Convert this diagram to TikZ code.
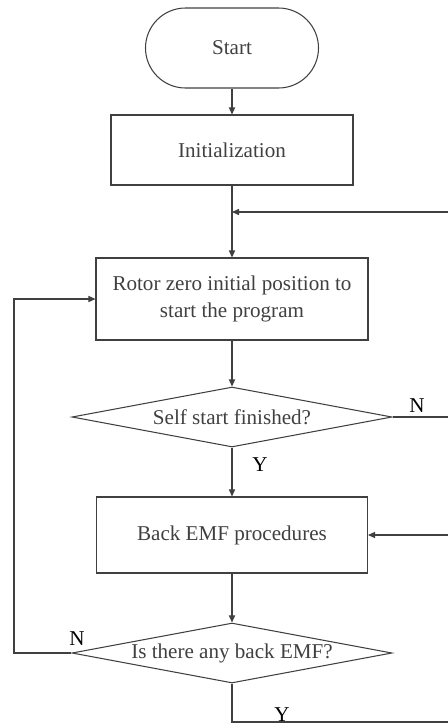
\documentclass[tikz,border=0pt]{standalone}
\usepackage{fontspec}
\setmainfont{Liberation Serif}
\usetikzlibrary{arrows.meta,shapes.geometric}
\tikzset{
	line/.style={line width=0.6pt, color=black!75},
	arr/.style={line, -{Triangle[length=4pt,width=3.5pt]}},
	box/.style={line, draw, rectangle, align=center, font=\fontsize{12}{15}\selectfont},
	term/.style={box, rounded corners=0.8cm, minimum width=3.46cm, minimum height=1.6cm},
	decide/.style={line, draw, diamond, aspect=5.3, inner sep=0pt, minimum width=6.4cm, minimum height=1.2cm, font=\fontsize{12}{15}\selectfont},
	yn/.style={font=\fontsize{12}{14}\selectfont}
}
\begin{document}
\begin{tikzpicture}
		%%%%% START %%%%%
		
		\useasboundingbox (0, 0) rectangle (8.94, -14.48);
		
		\node[term] (start) at (4.64, -0.96) {Start};
		\node[box, minimum width=4.84cm, minimum height=1.4cm] (init) at (4.64, -3.0) {Initialization};
		\node[box, minimum width=5.44cm, minimum height=1.64cm] (rotor) at (4.64, -5.98) {Rotor zero initial position to\\start the program};
		\node[decide] (self) at (4.64, -8.34) {Self start finished?};
		\node[box, minimum width=5.42cm, minimum height=1.52cm] (emf) at (4.64, -10.7) {Back EMF procedures};
		\node[decide] (any) at (4.64, -13.06) {Is there any back EMF?};
		
		\coordinate (join) at (4.64, -4.24);
		\coordinate (right1) at (9.05, -4.24);
		\coordinate (right2) at (9.05, -8.34);
		\coordinate (right3) at (9.05, -10.7);
		\coordinate (right4) at (9.05, -14.44);
		\coordinate (low) at (4.64, -14.44);
		\coordinate (left1) at (0.28, -13.06);
		\coordinate (left2) at (0.28, -5.98);
		
		\draw[arr] (start) -- (init);
		\draw[arr] (init) -- (rotor);
		\draw[arr] (rotor) -- (self);
		\draw[arr] (self) -- (emf);
		\draw[arr] (emf) -- (any);
		
		% N loop of the first test
		\draw[arr] (self.east) -- (right2) -- (right1) -- (join);
		% Y path of the second test
		\draw[arr] (any.south) -- (low) -- (right4) -- (right3) -- (emf.east);
		% N path of the second test
		\draw[arr] (any.west) -- (left1) -- (left2) -- (rotor.west);
		
		\node[yn] (n1) at (8.34, -8.12) {N};
		\node[yn] (y1) at (5.2, -9.3) {Y};
		\node[yn] (n2) at (1.54, -12.78) {N};
		\node[yn] (y2) at (5.64, -14.3) {Y};
		
		%%%%% END %%%%%
\end{tikzpicture}
\end{document}
